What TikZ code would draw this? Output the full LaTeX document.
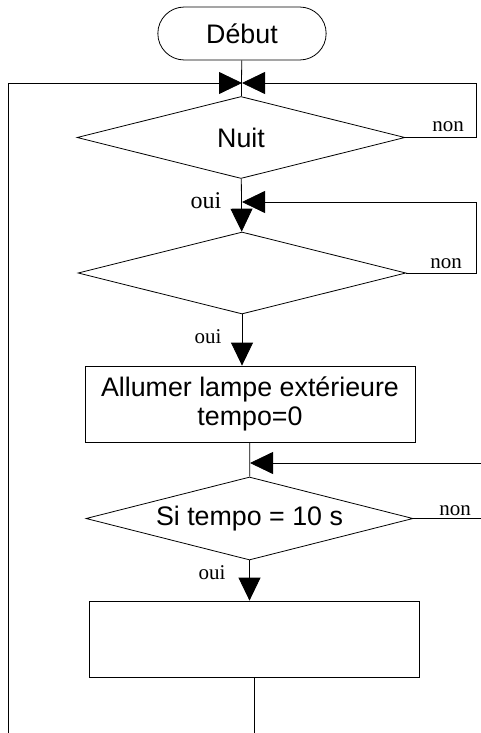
\documentclass[tikz,border=0pt]{standalone}
\usepackage{fontspec}
\setmainfont{Liberation Sans}
\newfontfamily\labelfont{Liberation Serif}
\usepackage{tikz}
\usetikzlibrary{shapes, arrows.meta}
\tikzset{>={Triangle[length=23pt, width=22pt]}}

\begin{document}
\begin{tikzpicture}[x=1pt, y=-1pt, line width=0.8pt, font=\fontsize{26.8}{29}\selectfont,
    decision/.style={diamond, draw, aspect=4, inner sep=0pt, minimum width=328pt, minimum height=82pt},
    process/.style={rectangle, draw, align=center, minimum width=330pt, minimum height=76pt},
    answer/.style={font=\labelfont\fontsize{21}{24}\selectfont}]
    \useasboundingbox (0,0) rectangle (480,733);

    % Nodes
    \node[rounded rectangle, draw, minimum width=175pt, minimum height=53pt] (debut) at (242,33.5) {Début};
    \node[decision] (nuit) at (241,137.5) {Nuit};
    \node[decision] (test) at (242,273) {};
    \node[process] (lampe) at (250,404) {Allumer lampe extérieure\\tempo=0};
    \node[decision, minimum width=327pt, minimum height=83pt] (tempo) at (249.5,518.5) {Si tempo = 10 s};
    \node[process] (fin) at (254,639) {};

    % Coordinates
    \coordinate (j1) at (242,83);
    \coordinate (j2) at (242,202);
    \coordinate (j3) at (250,463);
    \coordinate (left) at (8,740);
    \coordinate (bottom) at (254,740);

    % Lines
    \draw (debut) -- (nuit);
    \draw[->] (nuit) -- (test);
    \draw[->] (test.south) -- (test.south |- lampe.north);
    \draw (lampe) -- (tempo);
    \draw[->] (tempo.south) -- (tempo.south |- fin.north);
    \draw (fin.south) -- (bottom);

    % Loops
    \draw[->] (left) -- (8,83) -- (j1);
    \draw[->] (nuit.east) -- (476,137.5) |- (j1);
    \draw[->] (test.east) -- (476,273) |- (j2);
    \draw[->] (tempo.east) -- (482,518.5) |- (j3);

    % Labels
    \node[answer] (non1) at (448,127) {non};
    \node[answer] (non2) at (446,264) {non};
    \node[answer] (non3) at (455,511) {non};
    \node[answer, font=\labelfont\fontsize{24}{28}\selectfont] (oui1) at (206,201) {oui};
    \node[answer] (oui2) at (208,337) {oui};
    \node[answer] (oui3) at (212,573) {oui};
\end{tikzpicture}
\end{document}
